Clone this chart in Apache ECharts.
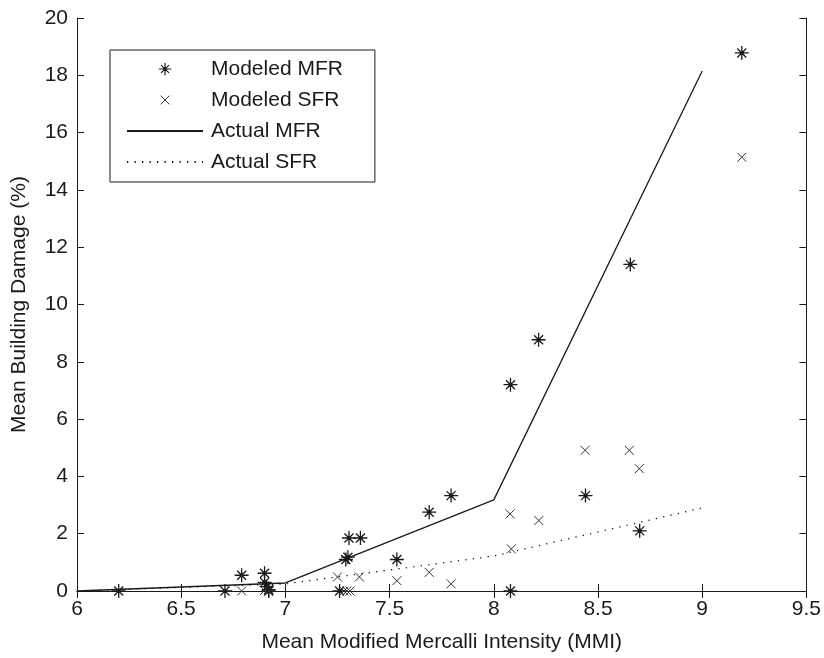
<!DOCTYPE html>
<html>
<head>
<meta charset="utf-8">
<script src="https://cdn.jsdelivr.net/npm/echarts@6/dist/echarts.min.js"></script>
<style>
  html, body { margin: 0; padding: 0; background: #fff; }
  #chart { width: 824px; height: 658px; }
</style>
</head>
<body>
<div id="chart"></div>
<script>
// modeled points [MMI, damage %]
const modeledMFR = [
  [6.2, 0], [6.71, 0], [6.79, 0.55], [6.9, 0.62], [6.9, 0.3], [6.91, 0.15],
  [6.92, 0.05], [6.92, 0], [7.26, 0], [7.29, 1.1], [7.3, 1.18], [7.305, 1.85],
  [7.36, 1.85], [7.535, 1.1], [7.69, 2.75], [7.795, 3.33], [8.08, 7.2],
  [8.08, 0], [8.215, 8.77], [8.44, 3.33], [8.655, 11.4], [8.7, 2.1], [9.19, 18.78]
]
const modeledSFR = [
  [6.79, 0], [6.9, 0.02], [6.92, 0], [7.25, 0.49], [7.28, 0], [7.295, 0],
  [7.31, 0], [7.355, 0.49], [7.535, 0.36], [7.69, 0.65], [7.795, 0.25],
  [8.078, 2.69], [8.084, 1.47], [8.216, 2.46], [8.438, 4.91], [8.65, 4.91],
  [8.698, 4.27], [9.19, 15.14]
]
// actual curves
const actualX = [6, 7, 8, 9]
const actualMFR = [0, 0.28, 3.18, 18.15]
const actualSFR = [0, 0.25, 1.22, 2.9]

const xTicks = { min: 6, max: 9.5, interval: 0.5 }
const yTicks = { min: 0, max: 20, interval: 2 }

const font = '"Liberation Sans", Arial, sans-serif'
const ink = '#1a1a1a'

const starPath = 'path://M7,0V14M0,7H14M2.5,2.5L11.5,11.5M11.5,2.5L2.5,11.5M5.6,5.6H8.4V8.4H5.6Z'
const starLegend = 'path://M-1,-1M15,15M7,0V14M0,7H14M2.5,2.5L11.5,11.5M11.5,2.5L2.5,11.5M5.6,5.6H8.4V8.4H5.6Z'
const crossPath = 'path://M0,0L10,10M10,0L0,10'
const crossLegend = 'path://M-3,-3M13,13M0,0L10,10M10,0L0,10'

const chart = echarts.init(document.getElementById('chart'))

const axisCommon = {
  type: 'value',
  axisLine: { show: true, lineStyle: { color: ink, width: 1 } },
  axisTick: { show: true, inside: true, length: 7, lineStyle: { color: ink } },
  splitLine: { show: false }
}

chart.setOption({
  animation: false,
  backgroundColor: '#fff',
  grid: { left: 77, right: 13, top: 18, bottom: 63 },
  legend: {
    orient: 'vertical',
    left: 110,
    top: 50,
    padding: [8, 32, 9, 16],
    itemWidth: 76,
    itemHeight: 14,
    itemGap: 9,
    backgroundColor: '#fff',
    borderColor: ink,
    borderWidth: 1,
    selectedMode: false,
    textStyle: { fontFamily: font, fontSize: 21, color: ink, lineHeight: 22, padding: [0, 0, 0, 3] },
    data: [
      { name: 'Modeled MFR', icon: starLegend, itemStyle: { borderWidth: 1.2 } },
      { name: 'Modeled SFR', icon: crossLegend, itemStyle: { borderWidth: 1 } },
      { name: 'Actual MFR', itemStyle: { opacity: 0 } },
      { name: 'Actual SFR', itemStyle: { opacity: 0 } }
    ]
  },
  xAxis: [
    Object.assign({}, axisCommon, xTicks, {
      position: 'bottom',
      name: 'Mean Modified Mercalli Intensity (MMI)',
      nameLocation: 'middle',
      nameGap: 41,
      nameTextStyle: { fontFamily: font, fontSize: 21, color: ink },
      axisLabel: { margin: 8, fontFamily: font, fontSize: 21, color: ink }
    }),
    Object.assign({}, axisCommon, xTicks, { position: 'top', axisLabel: { show: false } })
  ],
  yAxis: [
    Object.assign({}, axisCommon, yTicks, {
      position: 'left',
      name: 'Mean Building Damage (%)',
      nameLocation: 'middle',
      nameGap: 47,
      nameTextStyle: { fontFamily: font, fontSize: 21, color: ink },
      axisLabel: { margin: 9, fontFamily: font, fontSize: 21, color: ink }
    }),
    Object.assign({}, axisCommon, yTicks, { position: 'right', axisLabel: { show: false } })
  ],
  series: [
    {
      name: 'Modeled MFR',
      type: 'scatter',
      symbol: starPath,
      symbolSize: 14,
      itemStyle: { color: ink, borderColor: ink, borderWidth: 1.3, opacity: 1 },
      data: modeledMFR
    },
    {
      name: 'Modeled SFR',
      type: 'scatter',
      symbol: crossPath,
      symbolSize: 9,
      itemStyle: { color: ink, borderColor: '#333', borderWidth: 1, opacity: 1 },
      data: modeledSFR
    },
    {
      name: 'Actual MFR',
      type: 'line',
      symbol: 'none',
      color: ink,
      lineStyle: { color: ink, width: 1.3 },
      data: actualX.map((x, i) => [x, actualMFR[i]])
    },
    {
      name: 'Actual SFR',
      type: 'line',
      symbol: 'none',
      color: ink,
      lineStyle: { color: ink, width: 1.3, type: [1.3, 6.2] },
      data: actualX.map((x, i) => [x, actualSFR[i]])
    }
  ]
})
</script>
</body>
</html>
